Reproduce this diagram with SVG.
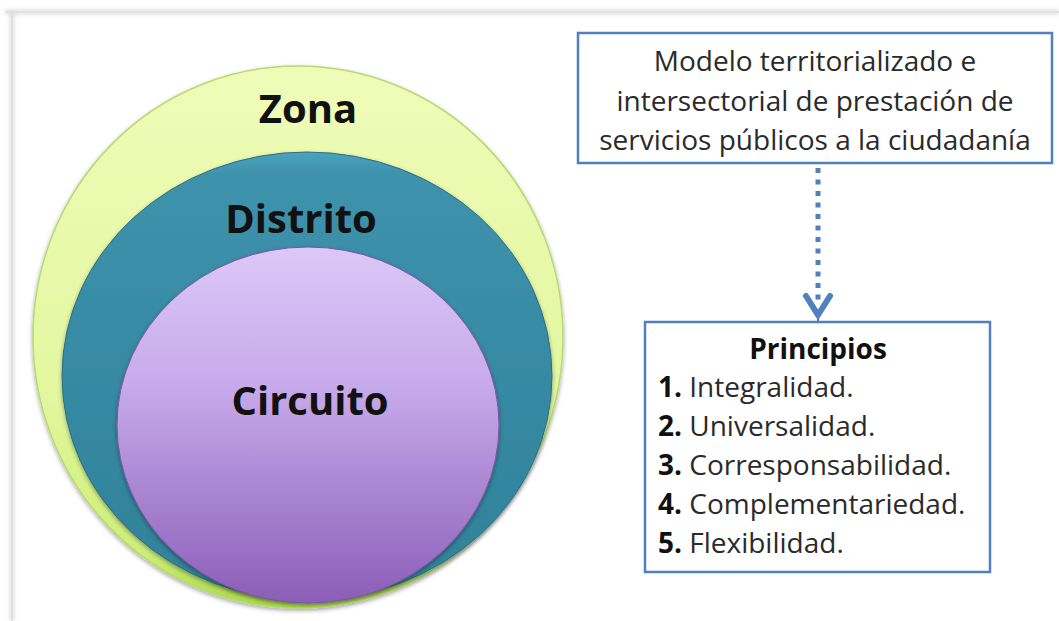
<svg xmlns="http://www.w3.org/2000/svg" width="1059" height="621" viewBox="0 0 1059 621">
<defs>
<linearGradient id="gZona" x1="0" y1="0" x2="0" y2="1">
<stop offset="0" stop-color="#effcb8"/>
<stop offset="0.6" stop-color="#e3f7a0"/>
<stop offset="0.9" stop-color="#cdee78"/>
<stop offset="1" stop-color="#a9d84c"/>
</linearGradient>
<linearGradient id="gDistrito" x1="0" y1="0" x2="0" y2="1">
<stop offset="0" stop-color="#4aa2bd"/>
<stop offset="0.05" stop-color="#3e92ac"/>
<stop offset="1" stop-color="#2f8199"/>
</linearGradient>
<linearGradient id="gCircuito" x1="0" y1="0" x2="0" y2="1">
<stop offset="0" stop-color="#dcc8f8"/>
<stop offset="0.4" stop-color="#c6a9ea"/>
<stop offset="1" stop-color="#8b5eb7"/>
</linearGradient>
<filter id="shadow" x="-10%" y="-10%" width="120%" height="120%">
<feDropShadow dx="0" dy="2" stdDeviation="2" flood-color="#000" flood-opacity="0.35"/>
</filter>
<filter id="frameShadow" x="-5%" y="-5%" width="110%" height="110%">
<feGaussianBlur stdDeviation="2"/>
</filter>
<style>
.lbl{font-family:"Open Sans","Liberation Sans",sans-serif;font-weight:700;font-size:40px;fill:#111;text-anchor:middle}
.box{fill:#fff;stroke:#4f81bd;stroke-width:2.5}
.txt{font-family:"Open Sans","Liberation Sans",sans-serif;font-size:28px;fill:#2a2a2a}
.num{font-weight:700;fill:#111}
.conn{fill:none;stroke:#4f81bd}
</style>
</defs>
<rect x="0" y="0" width="1059" height="621" fill="#fff"/>
<g id="frame">
<path d="M5 12 H1059 M12 12 V621" stroke="#cfcfcf" stroke-width="3" fill="none" filter="url(#frameShadow)"/>
<path d="M5 12 H1059 M12 12 V621" stroke="#dedede" stroke-width="1.5" fill="none"/>
</g>
<g id="zona">
<ellipse cx="298" cy="337" rx="265" ry="271" fill="url(#gZona)" stroke="#b9d872" stroke-width="1.5" filter="url(#shadow)"/>
<text class="lbl" x="308" y="123">Zona</text>
</g>
<g id="distrito">
<ellipse cx="307" cy="376" rx="245" ry="224" fill="url(#gDistrito)" stroke="#2c6f84" stroke-width="1" filter="url(#shadow)"/>
<text class="lbl" x="301" y="233">Distrito</text>
</g>
<g id="circuito">
<ellipse cx="308" cy="425" rx="191" ry="178" fill="url(#gCircuito)" stroke="#7b55a3" stroke-width="1" filter="url(#shadow)"/>
<text class="lbl" x="310" y="415">Circuito</text>
</g>
<g id="modelo">
<rect class="box" x="578" y="33" width="474" height="130"/>
<text class="txt" text-anchor="middle"><tspan x="815" y="71">Modelo territorializado e</tspan><tspan x="815" y="111">intersectorial de prestación de</tspan><tspan x="815" y="150">servicios públicos a la ciudadanía</tspan></text>
</g>
<g id="connectors">
<line class="conn" x1="818" y1="168" x2="818" y2="300" stroke-width="5" stroke-dasharray="5 6.5"/>
<polyline class="conn" points="806,296 818,315 830,296" stroke-width="6" stroke-linejoin="miter" stroke-linecap="round"/>
<line class="conn" x1="818" y1="312" x2="818" y2="322" stroke-width="2"/>
</g>
<g id="principios">
<rect class="box" x="645" y="322" width="345" height="250"/>
<text class="txt num" x="818" y="359" text-anchor="middle" font-size="25">Principios</text>
<text class="txt" x="658" y="397"><tspan class="num">1.</tspan> Integralidad.</text>
<text class="txt" x="658" y="436"><tspan class="num">2.</tspan> Universalidad.</text>
<text class="txt" x="658" y="475"><tspan class="num">3.</tspan> Corresponsabilidad.</text>
<text class="txt" x="658" y="514"><tspan class="num">4.</tspan> Complementariedad.</text>
<text class="txt" x="658" y="553"><tspan class="num">5.</tspan> Flexibilidad.</text>
</g>
</svg>
